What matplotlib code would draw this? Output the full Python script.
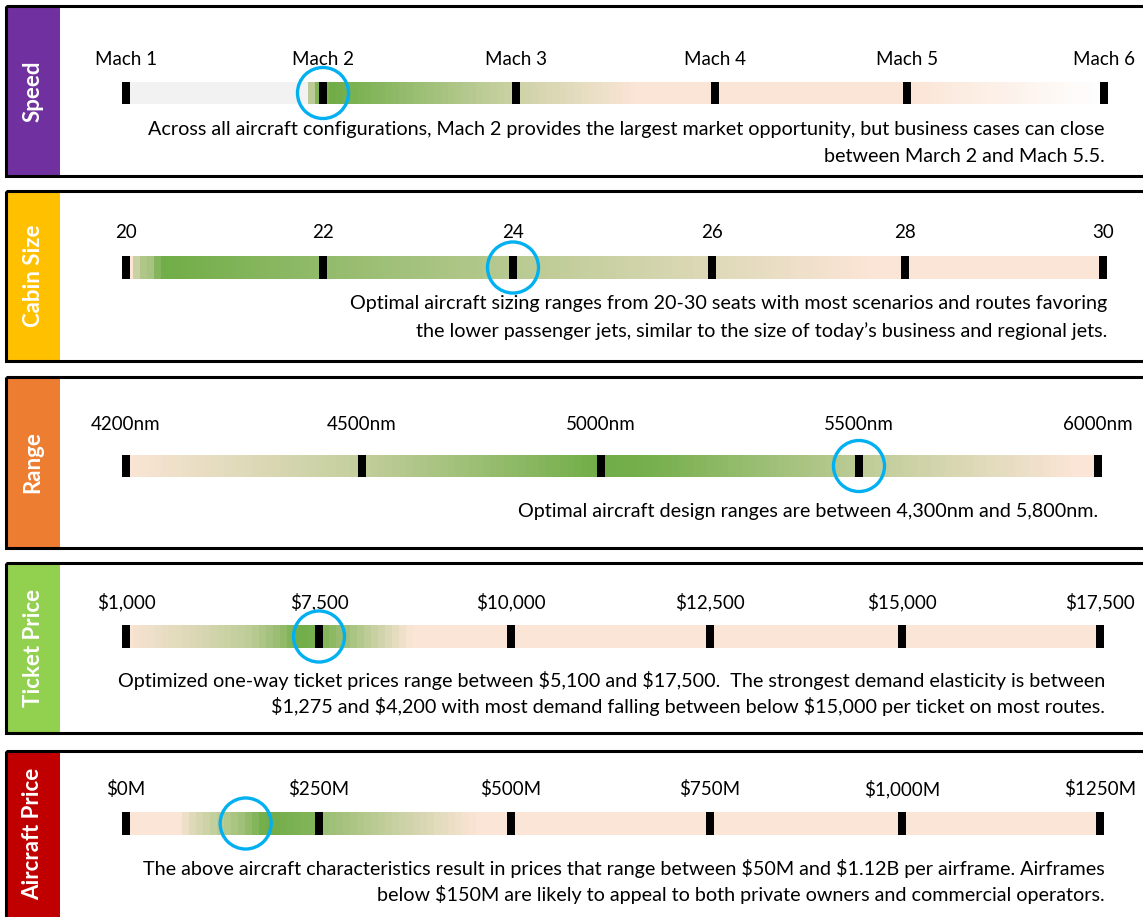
import numpy as np
import matplotlib
matplotlib.use('Agg')
import matplotlib.pyplot as plt
from matplotlib.patches import Rectangle

plt.rcParams['font.family'] = ['Lato', 'DejaVu Sans']

# ---- data ----
titles = ['Speed', 'Cabin Size', 'Range', 'Ticket Price', 'Aircraft Price']

speed_ticks = [1, 2, 3, 4, 5, 6]
speed_labels = ['Mach 1', 'Mach 2', 'Mach 3', 'Mach 4', 'Mach 5', 'Mach 6']
cabin_ticks = [20, 22, 24, 26, 28, 30]
cabin_labels = ['20', '22', '24', '26', '28', '30']
range_ticks = [4200, 4500, 5000, 5500, 6000]
range_labels = ['4200nm', '4500nm', '5000nm', '5500nm', '6000nm']
ticket_ticks = [1000, 7500, 10000, 12500, 15000, 17500]
ticket_labels = ['$1,000', '$7,500', '$10,000', '$12,500', '$15,000', '$17,500']
price_ticks = [0, 250, 500, 750, 1000, 1250]
price_labels = ['$0M', '$250M', '$500M', '$750M', '$1,000M', '$1250M']

# highlighted optimum (blue circle), in each scale's own units
optimum = [2.0, 24, 5500, 7500, 155]

# gradient stops: (value, shade) -- shade 1 = green, 0 = peach, -1 = white, 'gray'
speed_grad = [(1.0, 'gray'), (1.92, 'gray'), (1.925, 0.45), (1.96, 0.45), (1.965, 0.85),
              (2.0, 0.9), (2.05, 1.0), (3.0, 0.33), (3.6, 0.0), (5.0, 0.0), (6.0, -1.0)]
cabin_grad = [(20.0, 0.0), (20.08, 0.0), (20.09, 0.35), (20.17, 0.35), (20.18, 0.6),
              (20.25, 0.6), (20.26, 0.85), (20.32, 0.85), (20.34, 1.0), (22.0, 0.75),
              (24.0, 0.48), (27.6, 0.0), (30.0, 0.0)]
range_grad = [(4200, 0.0), (4500, 0.4), (5000, 1.0), (5100, 0.95), (5500, 0.45),
              (5950, 0.0), (6000, 0.0)]
ticket_grad = [(1000, 0.0), (1200, 0.03), (3470, 0.24), (5160, 0.44), (6200, 0.72),
               (6850, 1.0), (7500, 0.92), (8700, 0.0), (17500, 0.0)]
price_grad = [(0, 0.0), (70, 0.0), (85, 0.2), (115, 0.4), (150, 0.65), (180, 1.0),
              (250, 0.85), (256, 0.7), (455, 0.0), (1250, 0.0)]

notes = [
    ['Across all aircraft configurations, Mach 2 provides the largest market opportunity, but business cases can close',
     'between March 2 and Mach 5.5.'],
    ['Optimal aircraft sizing ranges from 20-30 seats with most scenarios and routes favoring',
     'the lower passenger jets, similar to the size of today\u2019s business and regional jets.'],
    ['Optimal aircraft design ranges are between 4,300nm and 5,800nm.'],
    ['Optimized one-way ticket prices range between $5,100 and $17,500.  The strongest demand elasticity is between',
     '$1,275 and $4,200 with most demand falling between below $15,000 per ticket on most routes.'],
    ['The above aircraft characteristics result in prices that range between $50M and $1.12B per airframe. Airframes',
     'below $150M are likely to appeal to both private owners and commercial operators.'],
]

all_ticks = [speed_ticks, cabin_ticks, range_ticks, ticket_ticks, price_ticks]
all_labels = [speed_labels, cabin_labels, range_labels, ticket_labels, price_labels]
all_grads = [speed_grad, cabin_grad, range_grad, ticket_grad, price_grad]

# ---- layout (pixels) ----
W, H = 1143, 917
tab_colors = ['#7030A0', '#FFC000', '#ED7D31', '#92D050', '#C00000']
box_y = [(6, 176), (191, 361), (377, 548), (563, 733), (751, 935)]
tick_px = [[126, 323, 516, 715, 907, 1104],
           [126, 323, 513, 712, 905, 1103],
           [126, 362, 601, 859, 1098],
           [126, 319, 511, 710, 902, 1100],
           [126, 319, 511, 710, 902, 1100]]
bar_y = [(82, 104), (256, 279), (455, 477), (625, 648), (812, 835)]
label_pad = [10, 11, 16, 10, 10]
note_y = [[130, 157], [304, 331], [512], [681, 706], [868, 894]]
note_x = [1105, 1107, 1098, 1105, 1105]

PEACH = np.array([251, 229, 214]) / 255
GREEN = np.array([112, 173, 71]) / 255
WHITE = np.array([255, 255, 255]) / 255
GRAY = np.array([242, 242, 242]) / 255


def shade(s):
    if s == 'gray':
        return GRAY
    if s >= 0:
        return PEACH + s * (GREEN - PEACH)
    return PEACH + (-s) * (WHITE - PEACH)


fig = plt.figure(figsize=(11.43, 9.17), dpi=100)
bg = fig.add_axes([0, 0, 1, 1])
bg.set_xlim(0, W)
bg.set_ylim(H, 0)
bg.axis('off')

for i in range(5):
    y0, y1 = box_y[i]
    bg.add_patch(Rectangle((6, y0), 54, y1 - y0, facecolor=tab_colors[i], edgecolor='none'))
    bg.add_patch(Rectangle((6, y0), 1160, y1 - y0, facecolor='none', edgecolor='black', lw=2.2))
    yc = (y0 + min(y1, H)) / 2 if i == 4 else (y0 + y1) / 2
    bg.text(33, yc, titles[i], rotation=90, ha='center', va='center', color='white',
            fontsize=16, fontweight='bold')
    for line, ly in zip(notes[i], note_y[i]):
        bg.text(note_x[i], ly, line, ha='right', va='center', fontsize=14.2,
                color='black', parse_math=False)

    # bar axes in pixel x; values mapped onto the tick pixel positions
    ticks = all_ticks[i]
    px = tick_px[i]
    x0, x1 = px[0], px[-1]
    yb0, yb1 = bar_y[i]
    ax = fig.add_axes([x0 / W, 1 - yb1 / H, (x1 - x0) / W, (yb1 - yb0) / H])
    ax.set_xlim(x0, x1)
    ax.set_ylim(0, 1)

    grad = all_grads[i]
    pos = np.interp([g[0] for g in grad], ticks, px)
    cols = np.array([shade(g[1]) for g in grad])
    band = 7.0
    xs = np.arange(x0, x1, 0.5)
    xs_b = np.minimum(np.floor((xs - x0) / band) * band + band / 2 + x0, x1)
    img = np.stack([np.interp(xs_b, pos, cols[:, c]) for c in range(3)], axis=-1)[None, :, :]
    ax.imshow(img, extent=[x0, x1, 0, 1], aspect='auto', interpolation='nearest')

    tick_x = np.interp(ticks, ticks, px)
    ax.bar(tick_x, 1, width=8, bottom=0, color='black', clip_on=False, zorder=3)
    ax.scatter([np.interp(optimum[i], ticks, px)], [0.5], s=1350, facecolors='none',
               edgecolors='#00B0F0', linewidths=2.4, clip_on=False, zorder=4)

    ax.xaxis.tick_top()
    ax.set_xticks(tick_x)
    ax.set_xticklabels(all_labels[i], fontsize=13.5)
    ax.tick_params(axis='x', length=0, pad=label_pad[i])
    ax.set_yticks([])
    for sp in ax.spines.values():
        sp.set_visible(False)

fig.savefig('out.png', dpi=100)
